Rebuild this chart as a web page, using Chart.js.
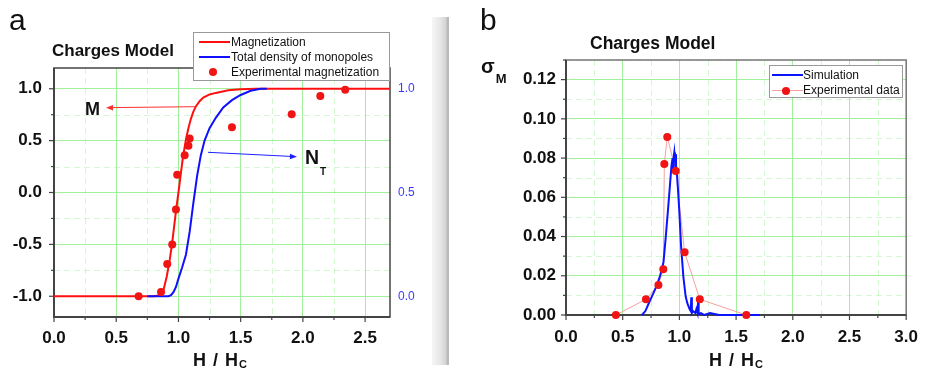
<!DOCTYPE html>
<html>
<head>
<meta charset="utf-8">
<script src="https://cdn.jsdelivr.net/npm/chart.js@4.4.1/dist/chart.umd.min.js"></script>
<style>
  body { margin: 0; background: #fff; font-family: "Liberation Sans", Arial, sans-serif; }
  #page { position: relative; width: 930px; height: 375px; overflow: hidden; }
  canvas { position: absolute; top: 0; }
  .txt { position: absolute; white-space: nowrap; line-height: 1; color: #111; }
  .panel { font-size: 30px; }
  .title { font-weight: bold; font-size: 17px; }
  .axis { font-weight: bold; font-size: 18px; letter-spacing: 1px; }
  .axis span { font-size: 11px; position: relative; top: 2px; letter-spacing: 0; }
  .legend { position: absolute; background: #fff; border: 1px solid #999; font-size: 12px; color: #111; }
  .legend .t { position: absolute; line-height: 14px; white-space: nowrap; }
  .legend .sw { position: absolute; height: 2px; }
  .legend .dot { position: absolute; width: 8px; height: 8px; border-radius: 50%; background: #f01414; }
  .sep { position: absolute; left: 432px; top: 17px; width: 17px; height: 348px;
         background: linear-gradient(to right, #f6f6f6 0%, #e8e8e8 45%, #d4d4d4 80%, #adadad 96%, #dcdcdc 100%); }
</style>
</head>
<body>
<div id="page">
  <div class="sep"></div>
  <canvas id="chartA" width="460" height="375" style="left:0"></canvas>
  <canvas id="chartB" width="460" height="375" style="left:470px"></canvas>

  <svg width="930" height="375" style="position:absolute;left:0;top:0">
    <line x1="195" y1="106.7" x2="112" y2="107.6" stroke="#ff3030" stroke-width="1"/>
    <polygon points="106,107.7 113,105 113,110.4" fill="#ff3030"/>
    <line x1="208" y1="152.3" x2="291" y2="156.4" stroke="#2020ff" stroke-width="1"/>
    <polygon points="297,156.7 290,153.8 289.8,159.3" fill="#2020ff"/>
  </svg>

  <div class="txt panel" style="left:9px;top:5px">a</div>
  <div class="txt panel" style="left:480px;top:5px">b</div>
  <div class="txt title" style="left:52px;top:42px">Charges Model</div>
  <div class="txt title" style="left:590px;top:35px;font-size:17.5px">Charges Model</div>

  <div class="txt" style="left:85px;top:100px;font-size:18px;font-weight:bold">M</div>
  <div class="txt" style="left:305px;top:147.5px;font-size:19.5px;font-weight:bold">N<span style="font-size:10px;position:relative;top:11px;margin-left:1px">T</span></div>
  <div class="txt" style="left:481px;top:55.6px;font-size:20px;font-weight:bold">σ<span style="font-size:13px;position:relative;top:10px;margin-left:1px">M</span></div>

  <div class="txt axis" style="left:193px;top:350.8px">H / H<span>C</span></div>
  <div class="txt axis" style="left:709px;top:350.8px">H / H<span>C</span></div>

  <div class="legend" style="left:193px;top:32px;width:195px;height:47px">
    <div class="sw" style="left:5px;top:8px;width:31px;background:#ff1010"></div>
    <div class="t" style="left:37px;top:2px">Magnetization</div>
    <div class="sw" style="left:5px;top:23px;width:31px;background:#1010ff"></div>
    <div class="t" style="left:37px;top:17px">Total density of monopoles</div>
    <div class="dot" style="left:15px;top:35px"></div>
    <div class="t" style="left:37px;top:32px">Experimental magnetization</div>
  </div>

  <div class="legend" style="left:769px;top:65px;width:132px;height:31px">
    <div class="sw" style="left:2px;top:8px;width:31px;background:#0a14ff"></div>
    <div class="t" style="left:33px;top:2px">Simulation</div>
    <div class="sw" style="left:2px;top:24px;width:31px;height:1px;background:#f5a0a0"></div>
    <div class="dot" style="left:12px;top:21px"></div>
    <div class="t" style="left:33px;top:17px">Experimental data</div>
  </div>
</div>

<script>
// ---- panel a : magnetization loop ----
const magH = [0, 0.80, 0.86, 0.88, 0.906, 0.93, 0.95, 0.98, 1.00, 1.02, 1.035, 1.06, 1.08, 1.10, 1.12, 1.14, 1.17, 1.20, 1.25, 1.30, 1.40, 1.50, 1.62, 2.70];
const magM = [-1, -1, -0.99, -0.94, -0.81, -0.65, -0.48, -0.18, 0, 0.19, 0.33, 0.51, 0.62, 0.71, 0.78, 0.83, 0.88, 0.915, 0.945, 0.96, 0.985, 0.995, 1, 1];

const densH = [0.75, 0.92, 0.94, 0.96, 0.98, 1.00, 1.03, 1.06, 1.09, 1.12, 1.15, 1.18, 1.21, 1.25, 1.30, 1.36, 1.43, 1.50, 1.58, 1.66, 1.71];
const densN = [0, 0, 0.005, 0.02, 0.045, 0.085, 0.14, 0.20, 0.31, 0.45, 0.58, 0.68, 0.75, 0.81, 0.86, 0.91, 0.945, 0.97, 0.99, 1.0, 1.0];

const expMagH = [0.68, 0.86, 0.91, 0.95, 0.98, 0.99, 1.05, 1.08, 1.09, 1.43, 1.91, 2.14, 2.34];
const expMagM = [-1.0, -0.96, -0.69, -0.50, -0.165, 0.17, 0.36, 0.45, 0.52, 0.63, 0.755, 0.93, 0.99];

// ---- panel b : sigma_M ----
const simH = [0.67, 0.70, 0.73, 0.77, 0.80, 0.83, 0.86, 0.88, 0.90, 0.915, 0.93, 0.94, 0.945, 0.95, 0.955, 0.96, 0.965, 0.97, 0.98, 0.99, 1.00, 1.015, 1.035, 1.055, 1.07, 1.09, 1.10, 1.105, 1.11, 1.12, 1.14, 1.15, 1.16, 1.165, 1.17, 1.19, 1.22, 1.27, 1.35, 1.71];
const simSigma = [0, 0.002, 0.006, 0.011, 0.015, 0.02, 0.027, 0.04, 0.054, 0.065, 0.076, 0.08, 0.074, 0.081, 0.083, 0.078, 0.082, 0.076, 0.071, 0.062, 0.052, 0.035, 0.0195, 0.0095, 0.006, 0.003, 0.002, 0.009, 0.001, 0.002, 0.001, 0.003, 0.001, 0.008, 0.0005, 0.001, 0, 0.001, 0, 0];

const expH = [0.44, 0.705, 0.815, 0.858, 0.867, 0.893, 0.968, 1.046, 1.18, 1.59];
const expSigma = [0, 0.008, 0.0153, 0.0233, 0.077, 0.0908, 0.0734, 0.032, 0.008, 0];

const zip = (xs, ys) => xs.map((x, i) => ({ x, y: ys[i] }));

Chart.defaults.font.family = '"Liberation Sans", Arial, sans-serif';
Chart.defaults.color = '#111';

const GRID = '#a2f09c';
const tickFont = { size: 17, weight: 'bold' };

function minorValues(scale, step) {
  const out = [];
  for (let k = Math.ceil(scale.min / step - 1e-9); k * step <= scale.max + 1e-9; k++) {
    if (k % 2 !== 0) out.push(k * step);
  }
  return out;
}

// dashed minor grid, axis frame and outward tick marks
const frame = {
  id: 'frame',
  beforeDatasetsDraw(chart, args, o) {
    const { ctx, chartArea: a } = chart;
    const sx = chart.scales.x, sy = chart.scales.y;
    const xm = minorValues(sx, o.xMinor), ym = minorValues(sy, o.yMinor);
    ctx.save();
    ctx.strokeStyle = 'rgba(150,235,140,0.4)';
    ctx.lineWidth = 1;
    ctx.setLineDash([6, 4]);
    xm.forEach(v => {
      const p = Math.round(sx.getPixelForValue(v)) + 0.5;
      ctx.beginPath(); ctx.moveTo(p, a.top); ctx.lineTo(p, a.bottom); ctx.stroke();
    });
    ym.forEach(v => {
      const p = Math.round(sy.getPixelForValue(v)) + 0.5;
      ctx.beginPath(); ctx.moveTo(a.left, p); ctx.lineTo(a.right, p); ctx.stroke();
    });
    ctx.setLineDash([]);

    ctx.strokeStyle = o.edge;
    ctx.lineWidth = 1.5;
    ctx.strokeRect(a.left, a.top, a.width, a.height);
    ctx.strokeStyle = '#444';
    ctx.lineWidth = 2;
    ctx.beginPath();
    ctx.moveTo(a.left, a.top); ctx.lineTo(a.left, a.bottom); ctx.lineTo(a.right, a.bottom);
    ctx.stroke();

    ctx.lineWidth = 1.2;
    const tx = (v, len) => {
      const p = sx.getPixelForValue(v);
      ctx.beginPath(); ctx.moveTo(p, a.bottom); ctx.lineTo(p, a.bottom + len); ctx.stroke();
    };
    const ty = (v, len) => {
      const p = sy.getPixelForValue(v);
      ctx.beginPath(); ctx.moveTo(a.left, p); ctx.lineTo(a.left - len, p); ctx.stroke();
    };
    sx.ticks.forEach(t => tx(t.value, 5));
    xm.forEach(v => tx(v, 3));
    sy.ticks.forEach(t => ty(t.value, 5));
    ym.forEach(v => ty(v, 3));
    ctx.restore();
  }
};

new Chart(document.getElementById('chartA'), {
  type: 'line',
  data: {
    datasets: [
      { label: 'Magnetization', data: zip(magH, magM), borderColor: '#ff1010', borderWidth: 2,
        pointRadius: 0, order: 3, clip: false },
      { label: 'Total density of monopoles', data: zip(densH, densN), yAxisID: 'y1', borderColor: '#1010ff',
        borderWidth: 2, pointRadius: 0, order: 2, clip: false },
      { label: 'Experimental magnetization', data: zip(expMagH, expMagM), showLine: false,
        pointRadius: 4, pointBackgroundColor: '#f01414', pointBorderWidth: 0, order: 1, clip: false }
    ]
  },
  options: {
    responsive: false,
    animation: false,
    events: [],
    layout: { padding: { top: 68, left: 0, right: 0, bottom: 0 } },
    plugins: {
      legend: { display: false },
      tooltip: { enabled: false },
      frame: { xMinor: 0.25, yMinor: 0.25, edge: '#444' }
    },
    scales: {
      x: {
        type: 'linear', min: 0, max: 2.7,
        ticks: { stepSize: 0.5, includeBounds: false, padding: 11, font: tickFont, color: '#111',
                 maxRotation: 0, callback: v => v.toFixed(1) },
        grid: { color: GRID, drawTicks: false },
        border: { display: false },
        afterFit: s => { s.height = 58; }
      },
      y: {
        min: -1.2, max: 1.2,
        ticks: { stepSize: 0.5, includeBounds: false, padding: 12, font: tickFont, color: '#111',
                 callback: v => v.toFixed(1) },
        grid: { color: GRID, drawTicks: false },
        border: { display: false },
        afterFit: s => { s.width = 54; }
      },
      y1: {
        position: 'right', min: -0.1, max: 1.1,
        ticks: { stepSize: 0.5, includeBounds: false, padding: 8, font: { size: 12 }, color: '#3a3aff',
                 callback: v => v.toFixed(1) },
        grid: { drawOnChartArea: false, drawTicks: false },
        border: { display: false },
        afterFit: s => { s.width = 70; }
      }
    }
  },
  plugins: [frame]
});

new Chart(document.getElementById('chartB'), {
  type: 'line',
  data: {
    datasets: [
      { label: 'Experimental data', data: zip(expH, expSigma), borderColor: '#f5a0a0', borderWidth: 1,
        pointRadius: 0, order: 3, clip: false },
      { label: 'Simulation', data: zip(simH, simSigma), borderColor: '#0a14ff', borderWidth: 2,
        pointRadius: 0, order: 2, clip: false },
      { label: 'Experimental data', data: zip(expH, expSigma), showLine: false,
        pointRadius: 4, pointBackgroundColor: '#f01414', pointBorderWidth: 0, order: 1, clip: false }
    ]
  },
  options: {
    responsive: false,
    animation: false,
    events: [],
    layout: { padding: { top: 60, left: 0, right: 17, bottom: 0 } },
    plugins: {
      legend: { display: false },
      tooltip: { enabled: false },
      frame: { xMinor: 0.25, yMinor: 0.01, edge: '#777' }
    },
    scales: {
      x: {
        type: 'linear', min: 0, max: 3,
        ticks: { stepSize: 0.5, includeBounds: false, padding: 12, font: tickFont, color: '#111',
                 maxRotation: 0, callback: v => v.toFixed(1) },
        grid: { color: GRID, drawTicks: false },
        border: { display: false },
        afterFit: s => { s.height = 60; }
      },
      y: {
        min: 0, max: 0.13,
        ticks: { stepSize: 0.02, includeBounds: false, padding: 10, font: tickFont, color: '#111',
                 callback: v => v.toFixed(2) },
        grid: { color: GRID, drawTicks: false },
        border: { display: false },
        afterFit: s => { s.width = 96; }
      }
    }
  },
  plugins: [frame]
});
</script>
</body>
</html>
